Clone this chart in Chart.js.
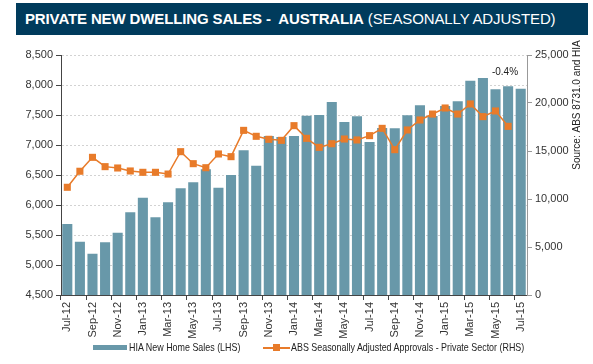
<!DOCTYPE html>
<html>
<head>
<meta charset="utf-8">
<script src="https://cdn.jsdelivr.net/npm/chart.js@4.4.1/dist/chart.umd.min.js"></script>
<style>
  html, body { margin: 0; padding: 0; background: #fff; }
  body { width: 593px; height: 364px; position: relative; overflow: hidden; font-family: "Liberation Sans", Arial, sans-serif; }
  #header { position: absolute; left: 16px; top: 3px; width: 572px; height: 32px; background: #003b5c; color: #fff;
            font-size: 15px; letter-spacing: -0.13px; line-height: 32px; padding-left: 9px; box-sizing: border-box; white-space: pre; }
  #header b { font-weight: bold; }
  #chartCanvas { position: absolute; left: 0; top: 0; }
  #legend { position: absolute; left: 0; top: 339px; width: 593px; height: 16px; font-size: 11px; color: #222; }
  .item { position: absolute; top: 0; height: 16px; line-height: 16px; white-space: nowrap; }
  .swatch { position: absolute; }
  .txt { position: absolute; top: 0; transform: scaleX(0.81); transform-origin: 0 50%; }
</style>
</head>
<body>
<canvas id="chartCanvas" width="593" height="364"></canvas>
<div id="header"><b>PRIVATE NEW DWELLING SALES -  AUSTRALIA</b> (SEASONALLY ADJUSTED)</div>
<div id="legend"></div>
<script>
const months = ['Jul-12','Aug-12','Sep-12','Oct-12','Nov-12','Dec-12','Jan-13','Feb-13','Mar-13','Apr-13','May-13','Jun-13',
  'Jul-13','Aug-13','Sep-13','Oct-13','Nov-13','Dec-13','Jan-14','Feb-14','Mar-14','Apr-14','May-14','Jun-14',
  'Jul-14','Aug-14','Sep-14','Oct-14','Nov-14','Dec-14','Jan-15','Feb-15','Mar-15','Apr-15','May-15','Jun-15','Jul-15'];

// HIA new home sales, left axis
const hiaSales = [5683,5389,5189,5378,5539,5878,6122,5794,6044,6278,6378,6594,
  6289,6500,6911,6656,7150,7133,7150,7489,7500,7717,7383,7478,
  7050,7283,7278,7494,7661,7483,7650,7728,8072,8117,7928,7978,7939];

// ABS approvals, right axis
const absApprovals = [11220,12890,14340,13370,13230,12920,12780,12780,12600,14930,13680,13260,
  14690,14410,17150,16530,16220,16110,17640,16320,15380,15760,16250,16150,
  16600,17360,15140,17190,18230,18850,19480,18850,19900,18580,19170,17570,null];

const hiaLabel = 'HIA New Home Sales (LHS)';
const absLabel = 'ABS Seasonally Adjusted Approvals - Private Sector (RHS)';
const lhsTicks = [4500,5000,5500,6000,6500,7000,7500,8000,8500];
const rhsTicks = [0,5000,10000,15000,20000,25000];
const changeNote = '-0.4%';
const sourceNote = 'Source: ABS 8731.0 and HIA';

const barColor = '#6898a9';
const lineColor = '#e87b2a';

const extras = {
  id: 'extras',
  afterDraw(chart) {
    const c = chart.ctx;
    c.save();
    c.fillStyle = '#222';
    c.font = '10px "Liberation Sans", Arial, sans-serif';
    c.textAlign = 'center';
    c.textBaseline = 'middle';
    c.fillText(changeNote, 505, 72);
    c.translate(577, 105);
    c.rotate(-Math.PI / 2);
    c.fillText(sourceNote, 0, 0);
    c.restore();
  }
};

let ctx = document.querySelector('#chartCanvas');
let graph = new Chart(ctx, {
  type: 'bar',
  data: {
    labels: months,
    datasets: [
      {
        type: 'bar',
        label: hiaLabel,
        data: hiaSales,
        backgroundColor: barColor,
        yAxisID: 'yL',
        barPercentage: 0.8,
        categoryPercentage: 1.0,
        order: 2
      },
      {
        type: 'line',
        label: absLabel,
        data: absApprovals,
        borderColor: lineColor,
        backgroundColor: lineColor,
        borderWidth: 1.5,
        pointStyle: 'rect',
        pointRadius: 5,
        pointBorderWidth: 0,
        yAxisID: 'yR',
        order: 1
      }
    ]
  },
  plugins: [extras],
  options: {
    responsive: false,
    animation: false,
    layout: { padding: { top: 55, left: 0, right: 0, bottom: 0 } },
    plugins: {
      legend: { display: false },
      tooltip: { enabled: false }
    },
    scales: {
      x: {
        offset: true,
        grid: {
          offset: true,
          drawOnChartArea: false,
          tickLength: 5,
          color: (c) => (c.index % 2 === 0 ? '#444' : 'transparent')
        },
        border: { display: true, color: '#444', width: 1 },
        ticks: {
          autoSkip: false,
          maxRotation: 90,
          minRotation: 90,
          padding: 2,
          color: '#333',
          font: { family: '"Liberation Sans", Arial, sans-serif', size: 11 },
          callback: (v, i) => (i % 2 === 0 ? months[i] : '')
        },
        afterFit: (s) => { s.height = 69; }
      },
      yL: {
        position: 'left',
        min: 4500,
        max: 8500,
        afterBuildTicks: (s) => { s.ticks = lhsTicks.map(v => ({ value: v })); },
        grid: { color: '#d2d2d2', tickColor: '#444', tickLength: 5 },
        border: { display: true, color: '#444', width: 1, dash: [2, 2] },
        ticks: {
          padding: 3,
          color: '#333',
          font: { family: '"Liberation Sans", Arial, sans-serif', size: 11 },
          callback: (v) => v.toLocaleString('en-US')
        },
        afterFit: (s) => { s.width = 61; }
      },
      yR: {
        position: 'right',
        min: 0,
        max: 25000,
        afterBuildTicks: (s) => { s.ticks = rhsTicks.map(v => ({ value: v })); },
        grid: { drawOnChartArea: false, color: '#999', tickColor: '#999', tickLength: 5 },
        border: { display: true, color: '#999', width: 1 },
        ticks: {
          padding: 3,
          color: '#333',
          font: { family: '"Liberation Sans", Arial, sans-serif', size: 11 },
          callback: (v) => v.toLocaleString('en-US')
        },
        afterFit: (s) => { s.width = 66; }
      }
    }
  }
});

// legend built from the dataset labels
const legend = document.querySelector('#legend');
legend.innerHTML =
  '<div class="item" style="left:93px"><div class="swatch" style="left:0;top:6px;width:34px;height:5px;background:' + barColor + '"></div>' +
  '<span class="txt" style="left:36px">' + hiaLabel + '</span></div>' +
  '<div class="item" style="left:263px"><div class="swatch" style="left:0;top:8px;width:27px;height:1.5px;background:' + lineColor + '"></div>' +
  '<div class="swatch" style="left:10px;top:5px;width:7px;height:7px;background:' + lineColor + '"></div>' +
  '<span class="txt" style="left:28px">' + absLabel + '</span></div>';
</script>
</body>
</html>
